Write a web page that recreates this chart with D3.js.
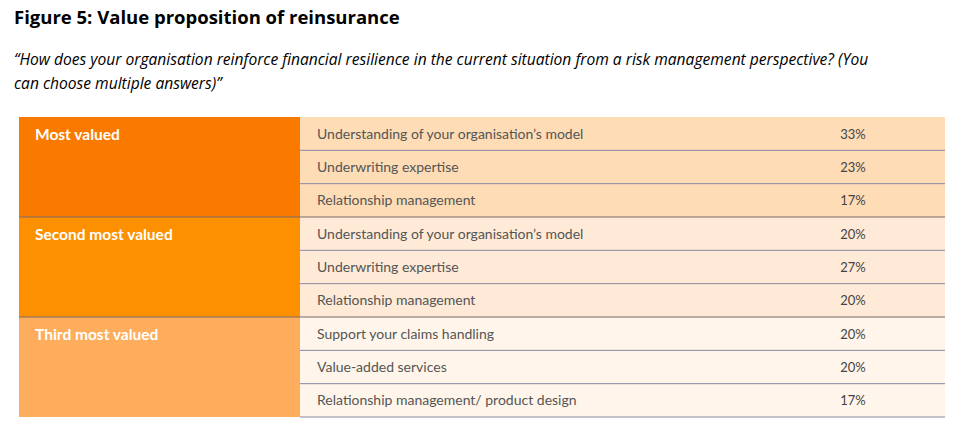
<!DOCTYPE html>
<html><head><meta charset="utf-8">
<script src="https://cdn.jsdelivr.net/npm/d3@7.9.0/dist/d3.min.js"></script>
<style>body{margin:0;background:#fff}</style>
</head><body><svg id="chart" width="966" height="430"></svg>
<script>
// table data
const groups = ['Most valued', 'Second most valued', 'Third most valued'];
const answers = [
  'Understanding of your organisation\u2019s model', 'Underwriting expertise', 'Relationship management',
  'Understanding of your organisation\u2019s model', 'Underwriting expertise', 'Relationship management',
  'Support your claims handling', 'Value-added services', 'Relationship management/ product design'
];
const shares = [33, 23, 17, 20, 27, 20, 20, 20, 17];

const groupFill = ['#fa7a00', '#fd9000', '#fdad5c'];
const rowFill = ['#fddcb6', '#feead6', '#fff5ea'];

const svg = d3.select('#chart');

svg.append('text').attr('x', 14).attr('y', 24)
  .style('font', 'bold 18.5px "Open Sans", sans-serif').attr('fill', '#000')
  .text('Figure 5: Value proposition of reinsurance');
const sub = svg.append('text').style('font', 'italic 15.6px "Open Sans", sans-serif').attr('fill', '#000');
sub.append('tspan').attr('x', 14).attr('y', 65)
  .text('\u201cHow does your organisation reinforce financial resilience in the current situation from a risk management perspective? (You');
sub.append('tspan').attr('x', 14).attr('y', 89).text('can choose multiple answers)\u201d');

const y = d3.scaleBand().domain(d3.range(answers.length)).range([117, 417]);
const left = 19, mid = 300, right = 945;

// group cells
groups.forEach((g, i) => {
  svg.append('rect').attr('x', left).attr('y', y(i * 3)).attr('width', mid - left)
    .attr('height', y.bandwidth() * 3).attr('fill', groupFill[i]);
  svg.append('text').attr('x', 35).attr('y', y(i * 3) + 23)
    .style('font', 'bold 15.5px Lato, sans-serif').attr('fill', '#fff').text(g);
});

// answer rows
const rows = svg.selectAll('g.row').data(answers).join('g').attr('class', 'row')
  .attr('transform', (d, i) => `translate(0,${y(i)})`);
rows.append('rect').attr('x', mid).attr('width', right - mid).attr('height', y.bandwidth())
  .attr('fill', (d, i) => rowFill[Math.floor(i / 3)]);
rows.append('text').attr('x', 317).attr('y', y.bandwidth() / 2 + 5)
  .style('font', '14px Lato, sans-serif').attr('fill', '#555').text(d => d);
rows.append('text').attr('x', 853).attr('y', y.bandwidth() / 2 + 5).attr('text-anchor', 'middle')
  .style('font', '13px Lato, sans-serif').attr('fill', '#444').text((d, i) => shares[i] + '%');

// separators
d3.range(1, answers.length + 1).forEach(i => {
  const x0 = i % 3 === 0 ? left : mid;
  svg.append('line').attr('x1', i === answers.length ? mid : x0).attr('x2', right)
    .attr('y1', y(i - 1) + y.bandwidth()).attr('y2', y(i - 1) + y.bandwidth())
    .attr('stroke', i % 3 === 0 && i < 9 ? '#7a6a6a' : '#8a86a0').attr('stroke-width', 1);
});
</script></body></html>
